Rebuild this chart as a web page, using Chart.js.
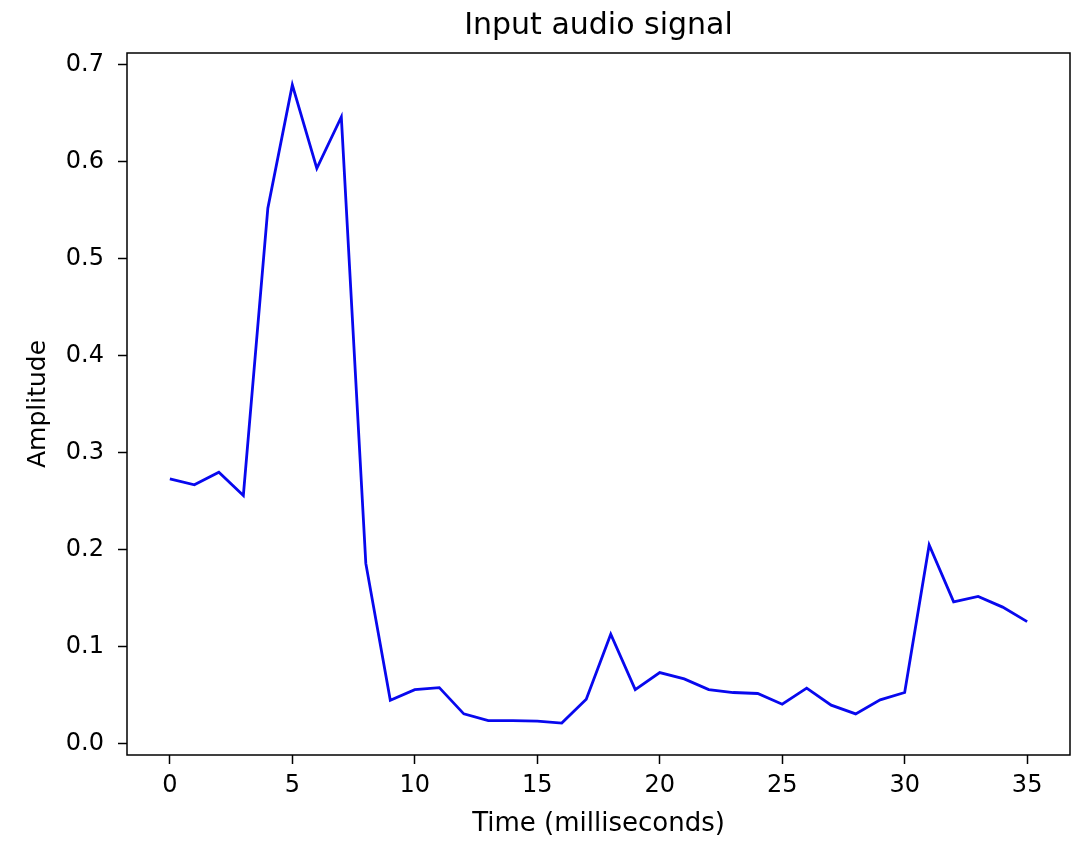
<!DOCTYPE html>
<html>
<head>
<meta charset="utf-8">
<title>Input audio signal</title>
<script src="https://cdn.jsdelivr.net/npm/chart.js@4/dist/chart.umd.min.js"></script>
<style>
  html, body { margin: 0; padding: 0; background: #fff; }
  #wrap { width: 1077px; height: 844px; }
</style>
</head>
<body>
<div id="wrap"><canvas id="chart" width="1077" height="844"></canvas></div>
<script>
const timeMs = Array.from({ length: 36 }, (_, i) => i);
const amplitude = [
  0.273, 0.267, 0.280, 0.256, 0.552, 0.679, 0.593, 0.646, 0.186, 0.045,
  0.056, 0.058, 0.031, 0.024, 0.024, 0.0235, 0.0215, 0.046, 0.113, 0.056,
  0.0735, 0.067, 0.056, 0.053, 0.052, 0.041, 0.0575, 0.040, 0.031, 0.0455,
  0.053, 0.205, 0.1465, 0.152, 0.141, 0.126,
];
const xTicks = [0, 5, 10, 15, 20, 25, 30, 35];
const yTicks = [0, 0.1, 0.2, 0.3, 0.4, 0.5, 0.6, 0.7];
const chartTitle = 'Input audio signal';

// matplotlib-style 5% margins
const yLo = Math.min(...amplitude);
const yHi = Math.max(...amplitude);
const yPad = (yHi - yLo) * 0.05;
const xPad = (timeMs[timeMs.length - 1] - timeMs[0]) * 0.05;

const FONT = "'DejaVu Sans', sans-serif";

// spines round the plot area + title centred over the axes (not the canvas)
const frame = {
  id: 'frame',
  afterDatasetsDraw(chart) {
    const { ctx, chartArea: a } = chart;
    ctx.save();
    ctx.strokeStyle = '#000';
    ctx.lineWidth = 1.5;
    ctx.strokeRect(a.left, a.top, a.right - a.left, a.bottom - a.top);
    ctx.fillStyle = '#000';
    ctx.font = `30px ${FONT}`;
    ctx.textAlign = 'center';
    ctx.textBaseline = 'alphabetic';
    ctx.fillText(chartTitle, (a.left + a.right) / 2, 34);
    ctx.restore();
  },
};

new Chart(document.getElementById('chart'), {
  type: 'line',
  data: {
    datasets: [
      {
        data: timeMs.map((t, i) => ({ x: t, y: amplitude[i] })),
        borderColor: '#0808ee',
        borderWidth: 2.8,
        pointRadius: 0,
        tension: 0,
        fill: false,
      },
    ],
  },
  options: {
    responsive: false,
    animation: false,
    devicePixelRatio: 1,
    layout: { padding: { left: 0, right: 7, top: 53, bottom: 4 } },
    plugins: {
      legend: { display: false },
      tooltip: { enabled: false },
      title: { display: false },
    },
    scales: {
      x: {
        type: 'linear',
        min: timeMs[0] - xPad,
        max: timeMs[timeMs.length - 1] + xPad,
        afterBuildTicks(scale) {
          scale.ticks = xTicks.map(v => ({ value: v }));
        },
        afterFit(scale) {
          scale.height = 85;
        },
        grid: {
          drawOnChartArea: false,
          drawTicks: true,
          tickLength: 9,
          tickColor: '#000',
          tickWidth: 1.5,
        },
        border: { display: false },
        ticks: {
          color: '#000',
          padding: 7,
          maxRotation: 0,
          font: { family: FONT, size: 24 },
          callback: v => String(v),
        },
        title: {
          display: true,
          text: 'Time (milliseconds)',
          color: '#000',
          font: { family: FONT, size: 26, lineHeight: 1.2 },
          padding: { top: 0, bottom: 0 },
        },
      },
      y: {
        type: 'linear',
        min: yLo - yPad,
        max: yHi + yPad,
        afterBuildTicks(scale) {
          scale.ticks = yTicks.map(v => ({ value: v }));
        },
        afterFit(scale) {
          scale.width = 127;
        },
        grid: {
          drawOnChartArea: false,
          drawTicks: true,
          tickLength: 9,
          tickColor: '#000',
          tickWidth: 1.5,
        },
        border: { display: false },
        ticks: {
          color: '#000',
          padding: 14,
          font: { family: FONT, size: 24 },
          callback: v => v.toFixed(1),
        },
        title: {
          display: true,
          text: 'Amplitude',
          color: '#000',
          font: { family: FONT, size: 25, lineHeight: 1.2 },
          padding: { top: 23, bottom: 0 },
        },
      },
    },
  },
  plugins: [frame],
});
</script>
</body>
</html>
